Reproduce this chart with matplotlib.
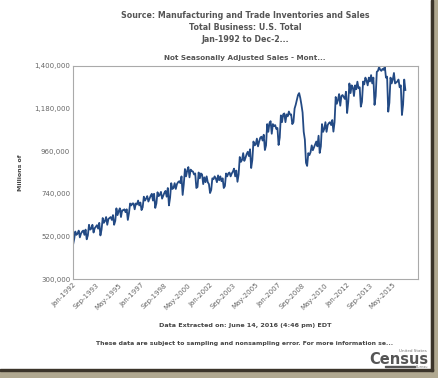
import numpy as np
import matplotlib
matplotlib.use("Agg")
from matplotlib import pyplot as plt
from matplotlib.patches import Rectangle
from datetime import datetime

# monthly sales, thousands of millions of dollars, Jan-1992 .. Apr-2016
sales_k = [
    476, 505, 545, 528, 535, 550, 515, 535, 545, 550, 528, 555,          # 1992
    505, 525, 580, 555, 560, 580, 540, 562, 570, 578, 560, 590,          # 1993
    525, 555, 615, 590, 600, 620, 580, 610, 615, 620, 605, 630,          # 1994
    580, 600, 665, 630, 650, 665, 620, 655, 655, 660, 645, 660,          # 1995
    605, 640, 690, 680, 690, 690, 660, 690, 685, 705, 680, 695,          # 1996
    656, 670, 725, 705, 715, 728, 700, 715, 730, 740, 705, 740,          # 1997
    667, 690, 748, 728, 735, 750, 715, 730, 745, 755, 725, 770,          # 1998
    680, 720, 795, 765, 770, 795, 765, 790, 800, 805, 795, 830,          # 1999
    734, 790, 868, 830, 860, 878, 825, 865, 858, 855, 840, 845,          # 2000
    770, 775, 850, 820, 845, 840, 790, 825, 800, 830, 800, 790,          # 2001
    744, 760, 820, 815, 830, 820, 800, 835, 810, 830, 805, 820,          # 2002
    770, 780, 845, 830, 845, 850, 830, 845, 855, 870, 830, 860,          # 2003
    802, 840, 930, 905, 915, 950, 910, 925, 945, 957, 935, 970,          # 2004
    873, 915, 1010, 990, 995, 1025, 985, 1010, 1030, 1035, 1015, 1045,   # 2005
    966, 990, 1100, 1060, 1105, 1115, 1050, 1100, 1090, 1095, 1075, 1080,  # 2006
    992, 1030, 1145, 1110, 1150, 1155, 1110, 1150, 1140, 1165, 1150, 1150,  # 2007
    1100, 1110, 1180, 1200, 1225, 1250, 1260, 1235, 1200, 1160, 1060, 1020,  # 2008
    900, 884, 950, 940, 955, 990, 965, 980, 995, 1010, 985, 1040,        # 2009
    951, 985, 1100, 1060, 1075, 1110, 1060, 1095, 1105, 1110, 1095, 1121,  # 2010
    1061, 1110, 1240, 1205, 1225, 1255, 1195, 1245, 1250, 1240, 1230, 1267,  # 2011
    1157, 1215, 1310, 1260, 1300, 1290, 1245, 1300, 1280, 1319, 1285, 1290,  # 2012
    1190, 1215, 1320, 1305, 1340, 1325, 1300, 1340, 1320, 1353, 1310, 1340,  # 2013
    1199, 1245, 1370, 1375, 1395, 1380, 1375, 1385, 1380, 1398, 1340, 1345,  # 2014
    1164, 1210, 1340, 1310, 1330, 1364, 1310, 1315, 1320, 1330, 1290, 1300,  # 2015
    1147, 1200, 1330, 1276,                                               # 2016
]

tick_labels = ["Jan-1992", "Sep-1993", "May-1995", "Jan-1997", "Sep-1998",
               "May-2000", "Jan-2002", "Sep-2003", "May-2005", "Jan-2007",
               "Sep-2008", "May-2010", "Jan-2012", "Sep-2013", "May-2015"]
y_ticks = [300000, 520000, 740000, 960000, 1180000, 1400000]

title_lines = ["Source: Manufacturing and Trade Inventories and Sales",
               "Total Business: U.S. Total",
               "Jan-1992 to Dec-2..."]
subtitle = "Not Seasonally Adjusted Sales - Mont..."
extracted = "Data Extracted on: June 14, 2016 (4:46 pm) EDT"
note = "These data are subject to sampling and nonsampling error. For more information se..."

x = np.arange(len(sales_k))
y = np.array(sales_k) * 1000

fig = plt.figure(figsize=(4.39, 3.78), dpi=100)
fig.patch.set_facecolor("white")

ax = fig.add_axes([0.1663, 0.2619, 0.7857, 0.5635])
ax.plot(x, y, color="#234a84", lw=1.3)
ax.set_xlim(0, 302)
ax.set_ylim(300000, 1400000)

grey = "#666666"
ax.set_yticks(y_ticks)
ax.set_yticklabels([f"{v:,}" for v in y_ticks], fontsize=5, color=grey)
tick_pos = []
for lab in tick_labels:
    d = datetime.strptime(lab, "%b-%Y")
    tick_pos.append((d.year - 1992) * 12 + d.month - 1)
ax.set_xticks(tick_pos)
ax.set_xticklabels(tick_labels, rotation=45, ha="right", rotation_mode="anchor",
                   fontsize=5, color=grey)
ax.tick_params(length=0, pad=2)
for s in ax.spines.values():
    s.set_color("#aaaaaa")
    s.set_linewidth(0.8)
ax.set_ylabel("Millions of", fontsize=4.5, color="#444444", fontweight="bold", labelpad=8)

cx = 245 / 439
for i, line in enumerate(title_lines):
    fig.text(cx, 1 - (16 + 12 * i) / 378, line, ha="center", va="center",
             fontsize=5.7, fontweight="bold", color="#555555")
fig.text(cx, 1 - 58 / 378, subtitle, ha="center", va="center",
         fontsize=5.2, fontweight="bold", color="#555555")
fig.text(cx, 1 - 326 / 378, extracted, ha="center", va="center",
         fontsize=4.6, fontweight="bold", color="#444444")
fig.text(cx, 1 - 343 / 378, note, ha="center", va="center",
         fontsize=4.45, fontweight="bold", color="#444444")

# census logo
fig.text(427 / 439, 1 - 351 / 378, "United States", ha="right", va="center",
         fontsize=3, color="#777777")
fig.text(428 / 439, 1 - 359 / 378, "Census", ha="right", va="center",
         fontsize=10.5, fontweight="bold", color="#555555")
fig.add_artist(Rectangle((385 / 439, 1 - 367 / 378), 30 / 439, 1.5 / 378,
                         transform=fig.transFigure, color="#555555"))
fig.text(428 / 439, 1 - 367 / 378, "Bureau", ha="right", va="center",
         fontsize=2.5, color="#777777")

# picture frame shadow on right and bottom
fig.add_artist(Rectangle((431 / 439, 0), 8 / 439, 1, transform=fig.transFigure,
                         color="#b0a890", zorder=10))
fig.add_artist(Rectangle((0, 0), 1, 7 / 378, transform=fig.transFigure,
                         color="#b0a890", zorder=10))
fig.add_artist(Rectangle((431 / 439, 7 / 378), 2.5 / 439, 1 - 7 / 378,
                         transform=fig.transFigure, color="#3b342a", zorder=11))
fig.add_artist(Rectangle((0, 7 / 378), 433.5 / 439, 2.5 / 378,
                         transform=fig.transFigure, color="#3b342a", zorder=11))

fig.savefig("out.png", dpi=100)
